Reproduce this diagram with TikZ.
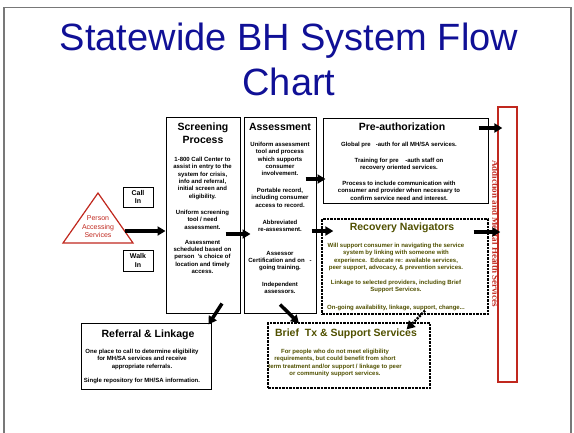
\documentclass[tikz,border=0pt]{standalone}
\usepackage{fontspec}
\setmainfont{Liberation Sans}
\newfontfamily\timesf{Liberation Serif}
\usetikzlibrary{arrows.meta}
\definecolor{titleblue}{RGB}{16,16,150}
\definecolor{boxred}{RGB}{192,40,30}
\definecolor{navolive}{RGB}{80,80,0}
\definecolor{framegray}{RGB}{120,120,120}
\begin{document}
\begin{tikzpicture}[x=1pt,y=-1pt,
  box/.style={draw=black, line width=1pt, inner sep=0pt},
  dbox/.style={draw=black, line width=1.3pt, dash pattern=on 2.5pt off 1pt, inner sep=0pt},
  head/.style={font=\fontsize{10.5}{13.5}\selectfont\bfseries, align=center, inner sep=0pt, anchor=north},
  body/.style={font=\fontsize{6}{7.3}\selectfont\bfseries, align=center, inner sep=0pt, anchor=north},
  big/.style={line width=3.5pt, -{Triangle[length=8pt,width=9pt]}},
  dbig/.style={line width=2.5pt, dash pattern=on 2pt off 1.2pt, -{Triangle[length=8pt,width=9pt]}},
  small/.style={box, font=\fontsize{7}{8.5}\selectfont\bfseries, align=center}
]
\useasboundingbox (0,0) rectangle (574,432);
% slide frame
\draw[framegray, line width=1.2pt] (4,440) -- (4,7.5) -- (571,7.5) -- (571,440);
% title
\node[font=\fontsize{38}{45}\selectfont, text=titleblue, anchor=base, inner sep=0pt] (title1) at (289,50) {Statewide BH System Flow};
\node[font=\fontsize{38}{45}\selectfont, text=titleblue, anchor=base, inner sep=0pt] (title2) at (289,95) {Chart};

% boxes
\node[box, minimum width=74pt, minimum height=196pt] (scr) at (203,215) {};
\node[box, minimum width=72pt, minimum height=196pt] (asm) at (280,215) {};
\node[box, minimum width=165pt, minimum height=85pt] (pre) at (405.5,160.5) {};
\node[dbox, minimum width=166pt, minimum height=95pt] (rec) at (405,266.5) {};
\node[dbox, minimum width=162pt, minimum height=65pt] (brf) at (349,355.5) {};
\node[box, minimum width=130pt, minimum height=66pt] (ref) at (146,356) {};
\node[draw=boxred, line width=1.3pt, minimum width=19pt, minimum height=275pt, inner sep=0pt] (ahs) at (507.5,244.5) {};
\node[small, minimum width=30pt, minimum height=20pt] (call) at (138,197) {Call\\In};
\node[small, minimum width=30pt, minimum height=21pt] (walk) at (138,260.5) {Walk\\In};

% triangle
\coordinate (tA) at (98,193);
\coordinate (tR) at (133,243);
\coordinate (tL) at (63,243);
\coordinate (triE) at (124.6,231);
\draw[boxred, line width=1.2pt, line join=miter] (tA) -- (tR) -- (tL) -- cycle;
\node[font=\fontsize{7}{8.5}\selectfont, text=boxred, align=center, inner sep=0pt, anchor=north] (person) at (98,215.5) {Person\\Accessing\\Services};

% screening text
\node[head] (scrH) at (203,122.5) {Screening\\Process};
\node[body] (scrT1) at (202.5,157) {1-800 Call Center to\\assist in entry to the\\system for crisis,\\info and referral,\\initial screen and\\eligibility.};
\node[body] (scrT2) at (202.5,210) {Uniform screening\\tool / need\\assessment.};
\node[body] (scrT3) at (202.5,240) {Assessment\\scheduled based on\\person\ \ 's choice of\\location and timely\\access.};

% assessment text
\node[head] (asmH) at (280,123) {Assessment};
\node[body] (asmT1) at (280,142) {Uniform assessment\\tool and process\\which supports\\consumer\\involvement.};
\node[body] (asmT2) at (280,188) {Portable record,\\including consumer\\access to record.};
\node[body] (asmT3) at (280,220) {Abbreviated\\re-assessment.};
\node[body] (asmT4) at (280,251) {Assessor\\Certification and on\ \ \ -\\going training.};
\node[body] (asmT5) at (280,282) {Independent\\assessors.};

% pre-authorization text
\node[head] (preH) at (402,123) {Pre-authorization};
\node[body] (preT1) at (399,142) {Global pre\ \ \ -auth for all MH/SA services.};
\node[body] (preT2) at (399,158) {Training for pre\ \ \ \ -auth staff on\\recovery oriented services.};
\node[body] (preT3) at (399,181) {Process to include communication with\\consumer and provider when necessary to\\confirm service need and interest.};

% recovery navigators text
\node[head, text=navolive] (recH) at (402,223) {Recovery Navigators};
\node[body, text=navolive] (recT1) at (396,243) {Will support consumer in navigating the service\\system by linking with someone with\\experience.\ \ Educate re: available services,\\peer support, advocacy, \& prevention services.};
\node[body, text=navolive] (recT2) at (396,280) {Linkage to selected providers, including Brief\\Support Services.};
\node[body, text=navolive] (recT3) at (396,305) {On-going availability, linkage, support, change...};

% brief tx text
\node[head, text=navolive] (brfH) at (346,329) {Brief\ \ Tx \& Support Services};
\node[body, text=navolive] (brfT) at (335,349) {For people who do not meet eligibility\\requirements, but could benefit from short\\term treatment and/or support / linkage to peer\\or community support services.};

% referral text
\node[head] (refH) at (148,330) {Referral \& Linkage};
\node[body] (refT1) at (142,349) {One place to call to determine eligibility\\for MH/SA services and receive\\appropriate referrals.};
\node[body] (refT2) at (142,378) {Single repository for MH/SA information.};

% vertical red label
\node[font=\timesf\bfseries\fontsize{9}{10}\selectfont, text=boxred, rotate=-90, inner sep=0pt] (ahsT) at (495.5,233.5) {Addiction and Mental Health Services};

% arrows
\draw[big] (triE) -- (scr.west |- triE);
\draw[big] ([xshift=-15pt,yshift=-19pt]scr.east) -- ([xshift=7pt,yshift=-19pt]asm.west);
\draw[big] ([xshift=-11pt,yshift=36pt]asm.east) -- ([xshift=3pt,yshift=-18.5pt]pre.west);
\draw[big] ([xshift=-5pt,yshift=-16pt]asm.east) -- ([xshift=12pt,yshift=35.5pt]rec.west);
\draw[big] ([xshift=-10pt,yshift=32.5pt]pre.east) -- ([xshift=5pt,yshift=116.5pt]ahs.west);
\draw[big] ([xshift=-15pt,yshift=34.5pt]rec.east) -- ([xshift=3pt,yshift=12.5pt]ahs.west);
\draw[big] ([xshift=19pt,yshift=10pt]scr.south) -- ([xshift=-3pt,yshift=-2pt]ref.north east);
\draw[big] ([yshift=9pt]asm.south) -- ([xshift=-50pt,yshift=-1pt]brf.north);
\draw[dbig] ([xshift=20pt,yshift=4pt]rec.south) -- ([xshift=-24pt,yshift=-7pt]brf.north east);
\end{tikzpicture}
\end{document}
